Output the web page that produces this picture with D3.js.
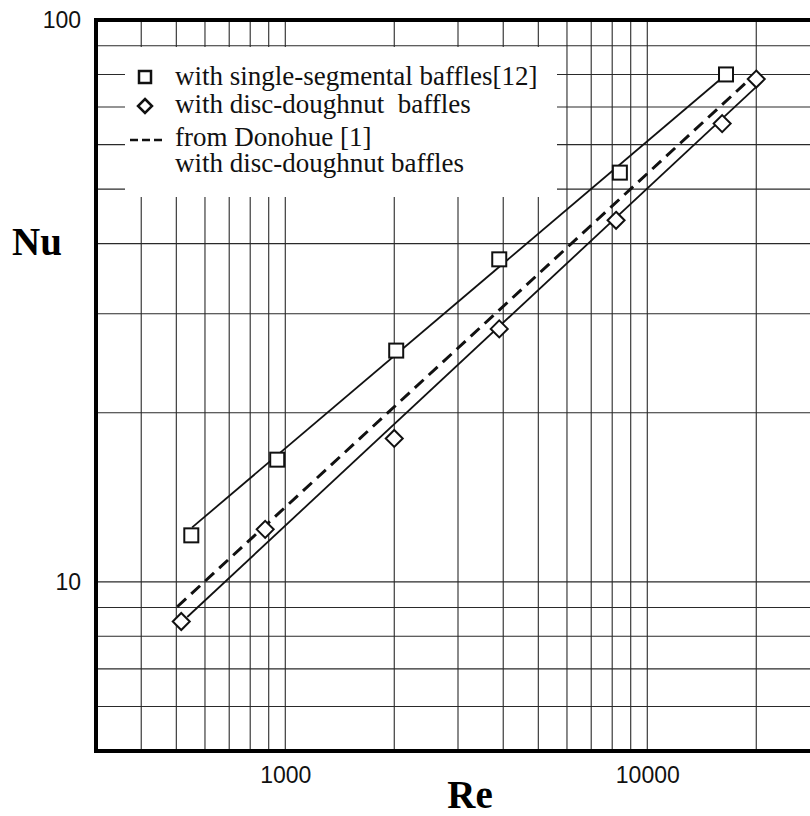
<!DOCTYPE html>
<meta charset="utf-8">
<html>
<head>
<title>Nu vs Re</title>
<style>
  body { margin: 0; background: #fff; }
  .tick text { font-family: "Liberation Sans", Arial, sans-serif; font-size: 23px; fill: #111; }
  .grid line { stroke: #2a2a2a; stroke-width: 1.1; }
  .legend text { font-family: "Liberation Serif", "Times New Roman", serif; font-size: 27px; fill: #111; }
</style>
</head>
<body>
<script src="https://d3js.org/d3.v7.min.js"></script>
<svg width="810" height="816"></svg>
<script>
    // data
    var segRe = [550, 950, 2025, 3900, 8400, 16500];
    var segNu = [12.1, 16.5, 25.8, 37.5, 53.5, 80];
    var discRe = [516, 880, 2000, 3900, 8200, 16100, 20000];
    var discNu = [8.5, 12.4, 18, 28.2, 44, 65.4, 78.5];

    // fitted lines, end points
    var segFitRe = [553, 16500], segFitNu = [12.5, 80];
    var discFitRe = [536, 20000], discFitNu = [8.66, 76];
    var donoRe = [503, 19000], donoNu = [9.03, 78];

    var xGrid = [400, 500, 600, 700, 800, 900, 1000, 2000, 3000, 4000, 5000, 6000, 7000, 8000, 9000, 10000, 20000];
    var yGrid = [6, 7, 8, 9, 10, 20, 30, 40, 50, 60, 70, 80, 90];
    var xTicks = [1000, 10000];
    var yTicks = [10, 100];
    var legendLabels = ["with single-segmental baffles[12]", "with disc-doughnut  baffles", "from Donohue [1]", "with disc-doughnut baffles"];

    var svg = d3.select("svg"),
        pLeft = 96, pRight = 820, pTop = 20, pBottom = 751;

    var x = d3.scaleLog().domain([300, 30000]).range([pLeft, pRight]);
    var y = d3.scaleLog().domain([5, 100]).range([pBottom, pTop]);

    // grid
    svg.append("g").attr("class", "grid")
        .selectAll("line").data(xGrid).enter().append("line")
        .attr("x1", d => x(d)).attr("x2", d => x(d))
        .attr("y1", pTop).attr("y2", pBottom);
    svg.append("g").attr("class", "grid")
        .selectAll("line").data(yGrid).enter().append("line")
        .attr("x1", pLeft).attr("x2", pRight)
        .attr("y1", d => y(d)).attr("y2", d => y(d));

    // tick labels
    svg.append("g").attr("transform", "translate(0," + pBottom + ")")
        .call(d3.axisBottom(x).tickValues(xTicks).tickSize(0).tickPadding(16).tickFormat(d3.format("d")))
        .call(g => g.select(".domain").remove());
    svg.append("g").attr("transform", "translate(" + pLeft + ",0)")
        .call(d3.axisLeft(y).tickValues(yTicks).tickSize(0).tickPadding(15).tickFormat(d3.format("d")))
        .call(g => g.select(".domain").remove());

    // legend box hides the grid
    var lg = svg.append("g").attr("class", "legend");
    lg.append("rect").attr("x", 125).attr("y", 47).attr("width", 432).attr("height", 150).attr("fill", "#fff");
    lg.append("rect").attr("x", 139).attr("y", 71).attr("width", 12).attr("height", 12)
        .attr("fill", "#fff").attr("stroke", "#111").attr("stroke-width", 2.5);
    lg.append("path").attr("d", "M0,-7L7,0L0,7L-7,0Z")
        .attr("transform", "translate(145,106)")
        .attr("fill", "#fff").attr("stroke", "#111").attr("stroke-width", 2.5);
    lg.append("line").attr("x1", 130).attr("x2", 163).attr("y1", 140).attr("y2", 140)
        .attr("stroke", "#111").attr("stroke-width", 2.5).attr("stroke-dasharray", "8,4");
    var ly = [85, 113, 146, 172];
    lg.selectAll("text").data(legendLabels).enter().append("text")
        .attr("x", 175).attr("y", (d, i) => ly[i]).text(d => d)
        .attr("xml:space", "preserve").style("white-space", "pre");

    // border
    svg.append("rect").attr("x", pLeft).attr("y", pTop)
        .attr("width", pRight - pLeft).attr("height", pBottom - pTop)
        .attr("fill", "none").attr("stroke", "#000").attr("stroke-width", 4);

    // lines
    var line = d3.line().x(d => x(d[0])).y(d => y(d[1]));
    svg.append("path").datum(d3.zip(segFitRe, segFitNu)).attr("d", line)
        .attr("fill", "none").attr("stroke", "#111").attr("stroke-width", 1.8);
    svg.append("path").datum(d3.zip(discFitRe, discFitNu)).attr("d", line)
        .attr("fill", "none").attr("stroke", "#111").attr("stroke-width", 1.8);
    svg.append("path").datum(d3.zip(donoRe, donoNu)).attr("d", line)
        .attr("fill", "none").attr("stroke", "#111").attr("stroke-width", 3)
        .attr("stroke-dasharray", "12,7");

    // markers
    svg.append("g").selectAll("rect").data(d3.zip(segRe, segNu)).enter().append("rect")
        .attr("x", d => x(d[0]) - 7).attr("y", d => y(d[1]) - 7)
        .attr("width", 14).attr("height", 14)
        .attr("fill", "#fff").attr("stroke", "#111").attr("stroke-width", 2);
    svg.append("g").selectAll("path").data(d3.zip(discRe, discNu)).enter().append("path")
        .attr("d", "M0,-8.5L8.5,0L0,8.5L-8.5,0Z")
        .attr("transform", d => "translate(" + x(d[0]) + "," + y(d[1]) + ")")
        .attr("fill", "#fff").attr("stroke", "#111").attr("stroke-width", 2);

    // axis titles
    svg.append("text").attr("x", 37).attr("y", 255).attr("text-anchor", "middle")
        .style("font-family", "'Liberation Serif', 'Times New Roman', serif")
        .style("font-weight", "bold").style("font-size", "39px").text("Nu");
    svg.append("text").attr("x", 470).attr("y", 808).attr("text-anchor", "middle")
        .style("font-family", "'Liberation Serif', 'Times New Roman', serif")
        .style("font-weight", "bold").style("font-size", "39px").text("Re");
</script>
</body>
</html>
